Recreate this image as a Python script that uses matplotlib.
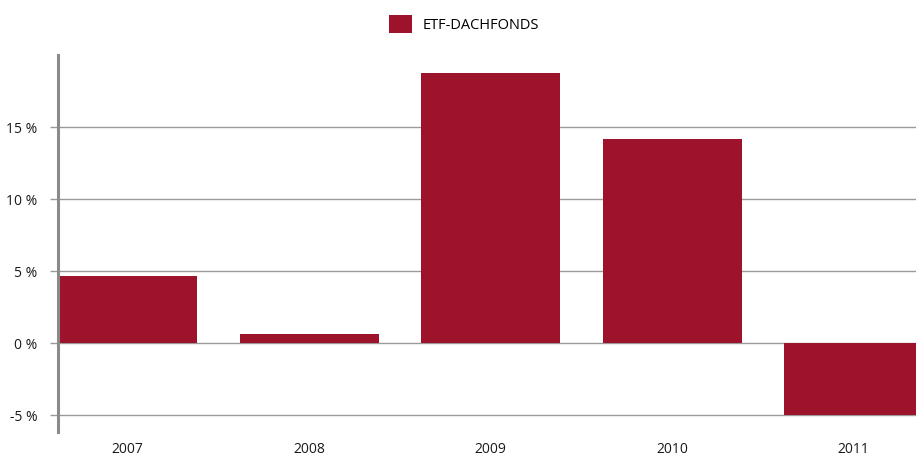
import matplotlib
matplotlib.use("Agg")
import matplotlib.pyplot as plt
from matplotlib.patches import Patch

years = ["2007", "2008", "2009", "2010", "2011"]
values = [4.65, 0.63, 18.75, 14.15, -5.0]
yticks = [-5, 0, 5, 10, 15]
ytick_labels = ["-5 %", "0 %", "5 %", "10 %", "15 %"]
series_name = "ETF-DACHFONDS"

bar_color = "#9d132c"
grid_color = "#9a9a9a"

plt.rcParams["font.family"] = ["Open Sans", "DejaVu Sans"]

fig = plt.figure(figsize=(9.16, 4.57), dpi=100)
ax = fig.add_axes([58 / 916, 25 / 457, 858 / 916, 377 / 457])

x = list(range(len(years)))
ax.bar(x, values, width=0.766, color=bar_color, zorder=2)

ax.set_xlim(-0.383, 4.344)
ax.set_ylim(-6.18, 20.0)

ax.set_yticks(yticks)
ax.set_yticklabels(ytick_labels)
ax.set_xticks(x)
ax.set_xticklabels(years)

for t in yticks:
    ax.axhline(t, color=grid_color, lw=1.0, zorder=1)

for s in ["top", "right", "bottom"]:
    ax.spines[s].set_visible(False)
ax.spines["left"].set_color("#8a8a8a")
ax.spines["left"].set_linewidth(2.2)
ax.spines["left"].set_zorder(3)

ax.tick_params(axis="y", length=6, width=1, color=grid_color, pad=9,
               labelsize=10, labelcolor="#1a1a1a")
ax.tick_params(axis="x", length=0, pad=7, labelsize=10, labelcolor="#1a1a1a")

handle = Patch(facecolor=bar_color, edgecolor="none")
fig.legend([handle], [series_name], loc="center", bbox_to_anchor=(464 / 916, 1 - 24 / 457),
           frameon=False, fontsize=10.5, handlelength=1.55, handleheight=1.55,
           handletextpad=0.75)

fig.savefig("out.png", dpi=100)
